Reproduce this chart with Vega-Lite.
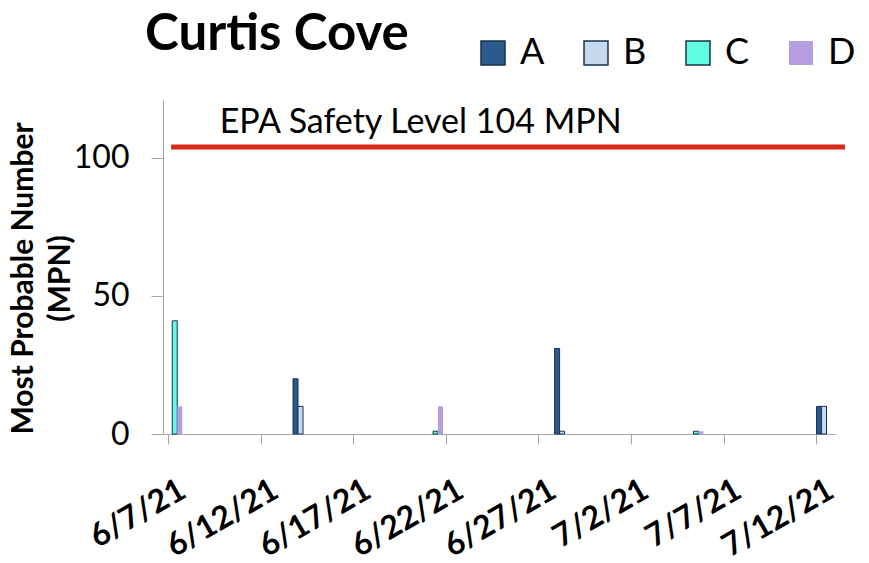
{
  "$schema": "https://vega.github.io/schema/vega-lite/v6.json",
  "width": 672,
  "height": 334,
  "autosize": "none",
  "padding": {"left": 163, "top": 100, "right": 34, "bottom": 129},
  "background": "white",
  "config": {
    "font": "Lato",
    "view": {"stroke": null},
    "axisX": {
      "format": "%-m/%-d/%y", "labelAngle": -30, "labelAlign": "right", "labelBaseline": "top",
      "labelFontSize": 32, "labelFontWeight": "bold", "labelColor": "black", "labelPadding": 30, "labelOffset": 7,
      "domainColor": "#a6a6a6", "tickColor": "#a6a6a6", "tickSize": 10, "grid": false, "title": null,
      "labelOverlap": false, "labelFlush": false
    },
    "axisY": {
      "labelFontSize": 32, "labelColor": "black", "labelPadding": 22,
      "tickSize": 12, "tickColor": "#a6a6a6", "domainColor": "#a6a6a6", "grid": false,
      "titleFontSize": 30, "titleFontWeight": "bold", "titleColor": "black",
      "titleX": -140, "titleY": 178, "titleAlign": "center", "titleAngle": -90, "titleBaseline": "middle", "titleLineHeight": 37
    }
  },
  "title": {"text": "Curtis Cove", "fontSize": 51, "fontWeight": "bold", "anchor": "start", "frame": "group", "dx": -18, "color": "black", "offset": -26},
  "datasets": {
    "samples": [
      {"date": "2021-06-07T05:30:00", "site": "C", "mpn": 41},
      {"date": "2021-06-07T05:30:00", "site": "D", "mpn": 10},
      {"date": "2021-06-14T07:00:00", "site": "A", "mpn": 20},
      {"date": "2021-06-14T07:00:00", "site": "B", "mpn": 10},
      {"date": "2021-06-21T07:30:00", "site": "C", "mpn": 1},
      {"date": "2021-06-21T07:30:00", "site": "D", "mpn": 10},
      {"date": "2021-06-28T10:00:00", "site": "A", "mpn": 31},
      {"date": "2021-06-28T10:00:00", "site": "B", "mpn": 1},
      {"date": "2021-07-05T09:00:00", "site": "C", "mpn": 1},
      {"date": "2021-07-05T09:00:00", "site": "D", "mpn": 1},
      {"date": "2021-07-12T13:30:00", "site": "A", "mpn": 10},
      {"date": "2021-07-12T13:30:00", "site": "B", "mpn": 10}
    ]
  },
  "layer": [
    {
      "data": {"name": "samples"},
      "transform": [{"filter": "datum.site === 'A'"}],
      "mark": {"type": "bar", "width": 5, "strokeWidth": 1, "xOffset": -7.5},
      "encoding": {
        "x": {"field": "date", "type": "temporal",
          "scale": {"domain": [{"year": 2021, "month": 6, "date": 7}, {"year": 2021, "month": 7, "date": 12, "hours": 18}]},
          "axis": {"values": [
            {"year": 2021, "month": 6, "date": 7},
            {"year": 2021, "month": 6, "date": 12},
            {"year": 2021, "month": 6, "date": 17},
            {"year": 2021, "month": 6, "date": 22},
            {"year": 2021, "month": 6, "date": 27},
            {"year": 2021, "month": 7, "date": 2},
            {"year": 2021, "month": 7, "date": 7},
            {"year": 2021, "month": 7, "date": 12}
          ]}},
        "y": {"field": "mpn", "type": "quantitative", "scale": {"domain": [0, 121], "nice": false},
          "axis": {"values": [0, 50, 100]}, "title": ["Most Probable Number", "(MPN)"]},
        "fill": {"field": "site", "type": "nominal", "scale": {"domain": ["A", "B", "C", "D"], "range": ["#2a5a8c", "#c6d9ee", "#62fde0", "#b49ee0"]},
          "legend": {"orient": "none", "legendX": 312, "legendY": -65, "direction": "horizontal", "columns": 4,
            "symbolType": "square", "symbolSize": 576, "symbolStrokeWidth": 1.5, "labelFontSize": 36, "labelColor": "black",
            "labelOffset": 9, "columnPadding": 33, "title": null}},
        "stroke": {"field": "site", "type": "nominal", "scale": {"domain": ["A", "B", "C", "D"], "range": ["#17324f", "#17324f", "#17324f", "transparent"]}}
      }
    },
    {
      "data": {"name": "samples"},
      "transform": [{"filter": "datum.site === 'B'"}],
      "mark": {"type": "bar", "width": 5, "strokeWidth": 1, "xOffset": -2.5},
      "encoding": {
        "x": {"field": "date", "type": "temporal"},
        "y": {"field": "mpn", "type": "quantitative", "title": ["Most Probable Number", "(MPN)"]},
        "fill": {"field": "site", "type": "nominal"},
        "stroke": {"field": "site", "type": "nominal"}
      }
    },
    {
      "data": {"name": "samples"},
      "transform": [{"filter": "datum.site === 'C'"}],
      "mark": {"type": "bar", "width": 5, "strokeWidth": 1, "xOffset": 2.5},
      "encoding": {
        "x": {"field": "date", "type": "temporal"},
        "y": {"field": "mpn", "type": "quantitative", "title": ["Most Probable Number", "(MPN)"]},
        "fill": {"field": "site", "type": "nominal"},
        "stroke": {"field": "site", "type": "nominal"}
      }
    },
    {
      "data": {"name": "samples"},
      "transform": [{"filter": "datum.site === 'D'"}],
      "mark": {"type": "bar", "width": 5, "strokeWidth": 1, "xOffset": 7.5},
      "encoding": {
        "x": {"field": "date", "type": "temporal"},
        "y": {"field": "mpn", "type": "quantitative", "title": ["Most Probable Number", "(MPN)"]},
        "fill": {"field": "site", "type": "nominal"},
        "stroke": {"field": "site", "type": "nominal"}
      }
    },
    {
      "data": {"values": [{}]},
      "mark": {"type": "rule", "color": "#d52a1a", "strokeWidth": 5, "clip": false},
      "encoding": {
        "x": {"datum": {"year": 2021, "month": 6, "date": 7, "hours": 4}, "type": "temporal"},
        "x2": {"datum": {"year": 2021, "month": 7, "date": 13, "hours": 13, "minutes": 30}},
        "y": {"datum": 104, "type": "quantitative"}
      }
    },
    {
      "data": {"values": [{}]},
      "mark": {"type": "text", "align": "left", "baseline": "bottom", "fontSize": 34, "color": "black", "dy": -7},
      "encoding": {
        "x": {"datum": {"year": 2021, "month": 6, "date": 9, "hours": 19}, "type": "temporal"},
        "y": {"datum": 104, "type": "quantitative"},
        "text": {"value": "EPA Safety Level 104 MPN"}
      }
    }
  ]
}
